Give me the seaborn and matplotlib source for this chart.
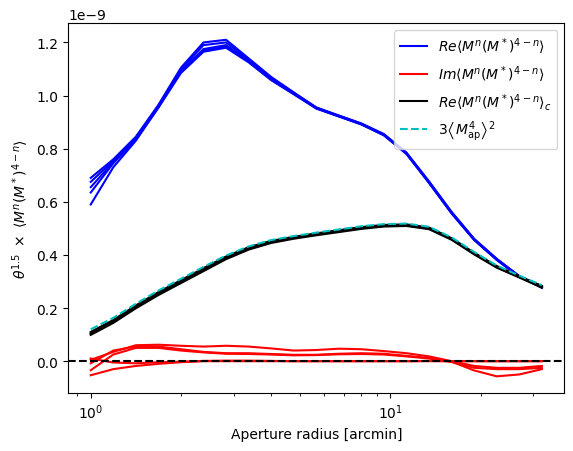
import numpy as np
import pandas as pd
import seaborn as sns
import matplotlib
matplotlib.use('Agg')
import matplotlib.pyplot as plt
from matplotlib.lines import Line2D

# aperture radii [arcmin]
theta = [1.0, 1.189, 1.414, 1.682, 2.0, 2.378, 2.828, 3.364, 4.0, 4.757, 5.657,
         6.727, 8.0, 9.514, 11.31, 13.45, 16.0, 19.03, 22.63, 26.91, 32.0]

# values in units of 1e-9
re_runs = [
    [0.69, 0.76, 0.845, 0.965, 1.105, 1.20, 1.21, 1.14, 1.07, 1.012, 0.955, 0.925, 0.895, 0.855, 0.785, 0.677, 0.562, 0.46, 0.385, 0.32, 0.276],
    [0.675, 0.755, 0.84, 0.96, 1.10, 1.19, 1.20, 1.135, 1.065, 1.01, 0.955, 0.924, 0.894, 0.853, 0.784, 0.675, 0.56, 0.46, 0.385, 0.32, 0.278],
    [0.655, 0.75, 0.84, 0.96, 1.095, 1.175, 1.19, 1.13, 1.062, 1.008, 0.953, 0.923, 0.893, 0.852, 0.782, 0.673, 0.558, 0.458, 0.383, 0.318, 0.28],
    [0.635, 0.745, 0.835, 0.955, 1.09, 1.17, 1.185, 1.128, 1.06, 1.006, 0.952, 0.922, 0.892, 0.851, 0.781, 0.672, 0.557, 0.457, 0.382, 0.318, 0.281],
    [0.59, 0.73, 0.83, 0.955, 1.085, 1.165, 1.18, 1.125, 1.058, 1.005, 0.951, 0.921, 0.891, 0.85, 0.78, 0.671, 0.556, 0.456, 0.381, 0.317, 0.282],
]
im_runs = [
    [0.005, 0.035, 0.06, 0.062, 0.058, 0.055, 0.058, 0.055, 0.048, 0.04, 0.042, 0.047, 0.045, 0.038, 0.03, 0.018, 0.0, -0.018, -0.025, -0.025, -0.018],
    [-0.008, 0.04, 0.055, 0.055, 0.045, 0.035, 0.03, 0.03, 0.027, 0.024, 0.024, 0.028, 0.03, 0.028, 0.02, 0.012, -0.002, -0.035, -0.057, -0.05, -0.03],
    [-0.034, 0.025, 0.05, 0.05, 0.04, 0.033, 0.028, 0.027, 0.025, 0.022, 0.023, 0.026, 0.027, 0.025, 0.018, 0.01, -0.003, -0.025, -0.03, -0.03, -0.025],
    [-0.053, -0.03, -0.018, -0.01, -0.004, 0.0, 0.0, 0.0, 0.0, 0.0, 0.0, 0.0, 0.0, 0.0, 0.0, 0.0, 0.0, 0.0, 0.0, 0.0, 0.0],
    [0.01, -0.005, -0.008, -0.004, -0.002, 0.001, 0.002, 0.002, 0.001, 0.0, 0.0, 0.0, 0.0, 0.0, 0.0, 0.001, 0.0, 0.0, 0.0, 0.0, 0.0],
]
rec_runs = [
    [0.110, 0.155, 0.210, 0.260, 0.305, 0.350, 0.394, 0.429, 0.453, 0.468, 0.481, 0.493, 0.505, 0.513, 0.515, 0.503, 0.463, 0.408, 0.358, 0.320, 0.283],
    [0.106, 0.151, 0.206, 0.256, 0.301, 0.346, 0.391, 0.426, 0.451, 0.466, 0.479, 0.491, 0.503, 0.511, 0.513, 0.501, 0.461, 0.406, 0.356, 0.318, 0.281],
    [0.103, 0.148, 0.203, 0.253, 0.298, 0.343, 0.388, 0.423, 0.448, 0.464, 0.477, 0.489, 0.501, 0.509, 0.511, 0.499, 0.459, 0.404, 0.354, 0.317, 0.279],
    [0.099, 0.144, 0.199, 0.249, 0.294, 0.339, 0.384, 0.420, 0.445, 0.461, 0.474, 0.486, 0.498, 0.507, 0.509, 0.497, 0.457, 0.402, 0.352, 0.315, 0.277],
]
map4_sq = [0.120, 0.163, 0.216, 0.266, 0.310, 0.355, 0.398, 0.432, 0.456, 0.471, 0.484, 0.496, 0.508, 0.516, 0.518, 0.506, 0.466, 0.411, 0.360, 0.322, 0.286]


def long_frame(runs):
    rows = []
    for k, run in enumerate(runs):
        for t, v in zip(theta, run):
            rows.append({'theta': t, 'value': v * 1e-9, 'run': k})
    return pd.DataFrame(rows)


fig, ax = plt.subplots(figsize=(5.73, 4.52), dpi=100)

sns.lineplot(data=long_frame(re_runs), x='theta', y='value', units='run',
             estimator=None, color='b', lw=1.5, ax=ax)
sns.lineplot(data=long_frame(im_runs), x='theta', y='value', units='run',
             estimator=None, color='r', lw=1.5, ax=ax)
sns.lineplot(data=long_frame(rec_runs), x='theta', y='value', units='run',
             estimator=None, color='k', lw=1.5, ax=ax)
sns.lineplot(x=theta, y=np.array(map4_sq) * 1e-9, color='c', ls='--', lw=1.5, ax=ax)
ax.axhline(0, color='k', ls='--', lw=1.5)

ax.set_xscale('log')
ax.set_xlabel('Aperture radius [arcmin]')
ax.set_ylabel(r'$\theta^{1.5}\ \times\ \langle M^n(M^*)^{4-n}\rangle$')

handles = [Line2D([], [], color='b'), Line2D([], [], color='r'),
           Line2D([], [], color='k'), Line2D([], [], color='c', ls='--')]
labels = [r'$Re\langle M^n(M^*)^{4-n}\rangle$',
          r'$Im\langle M^n(M^*)^{4-n}\rangle$',
          r'$Re\langle M^n(M^*)^{4-n}\rangle_c$',
          r'$3\left\langle M_{\rm ap}^4\right\rangle^2$']
ax.legend(handles, labels, loc='upper right')

fig.subplots_adjust(left=0.119, right=0.985, bottom=0.128, top=0.947)
fig.savefig('out.png')
